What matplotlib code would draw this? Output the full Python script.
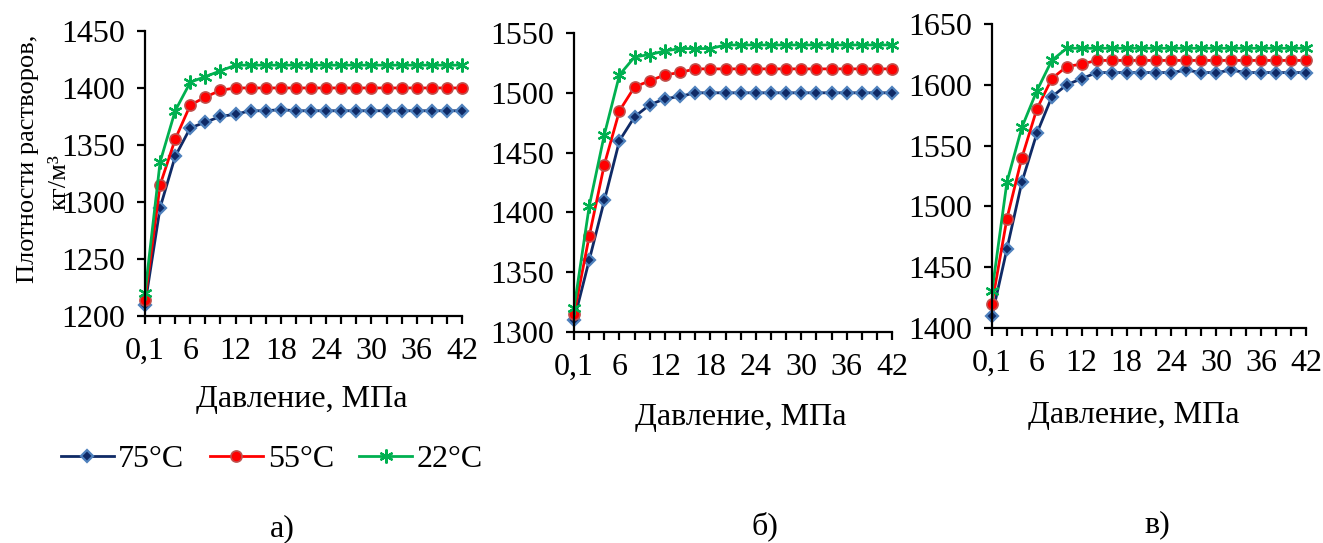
import matplotlib
matplotlib.use("Agg")
import matplotlib.pyplot as plt
import numpy as np

plt.rcParams['font.family'] = ['Liberation Serif', 'DejaVu Serif']

pressure = ["0,1"] + [str(p) for p in range(2, 43, 2)]
tick_labels = ["0,1", "6", "12", "18", "24", "30", "36", "42"]
series_names = ["75°C", "55°C", "22°C"]

a_75 = [1210, 1295, 1340, 1365, 1370, 1375, 1377, 1380, 1380, 1381, 1380, 1380,
        1380, 1380, 1380, 1380, 1380, 1380, 1380, 1380, 1380, 1380]
a_55 = [1214, 1315, 1355, 1385, 1392, 1398, 1400, 1400, 1400, 1400, 1400, 1400,
        1400, 1400, 1400, 1400, 1400, 1400, 1400, 1400, 1400, 1400]
a_22 = [1220, 1335, 1380, 1405, 1410, 1415, 1420, 1420, 1420, 1420, 1420, 1420,
        1420, 1420, 1420, 1420, 1420, 1420, 1420, 1420, 1420, 1420]

b_75 = [1310, 1360, 1410, 1460, 1480, 1490, 1495, 1497, 1500, 1500, 1500, 1500,
        1500, 1500, 1500, 1500, 1500, 1500, 1500, 1500, 1500, 1500]
b_55 = [1315, 1380, 1440, 1485, 1505, 1510, 1515, 1517, 1520, 1520, 1520, 1520,
        1520, 1520, 1520, 1520, 1520, 1520, 1520, 1520, 1520, 1520]
b_22 = [1320, 1405, 1465, 1515, 1530, 1532, 1535, 1537, 1537, 1537, 1540, 1540,
        1540, 1540, 1540, 1540, 1540, 1540, 1540, 1540, 1540, 1540]

c_75 = [1410, 1465, 1520, 1560, 1590, 1600, 1605, 1610, 1610, 1610, 1610, 1610,
        1610, 1612, 1610, 1610, 1612, 1610, 1610, 1610, 1610, 1610]
c_55 = [1420, 1490, 1540, 1580, 1605, 1615, 1617, 1620, 1620, 1620, 1620, 1620,
        1620, 1620, 1620, 1620, 1620, 1620, 1620, 1620, 1620, 1620]
c_22 = [1430, 1520, 1565, 1595, 1620, 1630, 1630, 1630, 1630, 1630, 1630, 1630,
        1630, 1630, 1630, 1630, 1630, 1630, 1630, 1630, 1630, 1630]

panels = [
    dict(data=[a_75, a_55, a_22], ylim=(1200, 1450), rect=[0.1096, 0.418, 0.2396, 0.525]),
    dict(data=[b_75, b_55, b_22], ylim=(1300, 1550), rect=[0.4339, 0.3886, 0.2404, 0.5506]),
    dict(data=[c_75, c_55, c_22], ylim=(1400, 1650), rect=[0.7498, 0.3960, 0.2373, 0.5599]),
]

styles = [
    dict(color="#0F2A66", marker="D", ms=6.5, mfc="#0F2A66", mec="#4F81BD", mew=1.6),
    dict(color="#FF0000", marker="o", ms=8, mfc="#FF0000", mec="#C0504D", mew=1.2),
    dict(color="#00B050", marker=(6, 2, 0), ms=10, mfc="#00B050", mec="#00B050", mew=1.6),
]

fig = plt.figure(figsize=(13.23, 5.43), dpi=100)
FS = 23
x = np.arange(len(pressure))
handles = []
for p in panels:
    ax = fig.add_axes(p["rect"])
    for vals, st, name in zip(p["data"], styles, series_names):
        h, = ax.plot(x, vals, lw=2.0, label=name, clip_on=False, **st)
        if len(handles) < 3:
            handles.append(h)
    ax.set_xlim(0, len(pressure) - 1)
    ax.set_ylim(*p["ylim"])
    ax.set_yticks(np.arange(p["ylim"][0], p["ylim"][1] + 1, 50))
    ax.set_xticks(x)
    labs = [pressure[i] if pressure[i] in tick_labels else "" for i in x]
    ax.set_xticklabels(labs)
    for s in ["top", "right"]:
        ax.spines[s].set_visible(False)
    for s in ["left", "bottom"]:
        ax.spines[s].set_linewidth(1.6)
    ax.tick_params(axis="both", direction="out", width=1.6, length=6, labelsize=FS)
    ax.tick_params(axis="x", pad=9)
    ax.tick_params(axis="y", pad=8)

# x axis titles
fig.text(302 / 1323, 1 - 400 / 543, "Давление, МПа", ha="center", va="center", fontsize=FS)
fig.text(741 / 1323, 1 - 418 / 543, "Давление, МПа", ha="center", va="center", fontsize=FS)
fig.text(1134 / 1323, 1 - 415 / 543, "Давление, МПа", ha="center", va="center", fontsize=FS)

# y axis title
fig.text(28 / 1323, 1 - 159 / 543, "Плотности растворов,", rotation=90,
         ha="center", va="center", fontsize=FS - 4)
fig.text(59 / 1323, 1 - 182 / 543, "кг/м³", rotation=90,
         ha="center", va="center", fontsize=FS - 4)

# legend
fig.legend(handles=handles, labels=series_names, loc="center",
           bbox_to_anchor=(272 / 1323, 1 - 459 / 543), ncol=3, frameon=False,
           fontsize=FS, handlelength=1.65, handletextpad=0.15, columnspacing=0.8)

# panel letters
fig.text(282 / 1323, 1 - 529 / 543, "а)", ha="center", va="center", fontsize=FS)
fig.text(765 / 1323, 1 - 526 / 543, "б)", ha="center", va="center", fontsize=FS)
fig.text(1157 / 1323, 1 - 525 / 543, "в)", ha="center", va="center", fontsize=FS)

fig.savefig("out.png", dpi=100)
